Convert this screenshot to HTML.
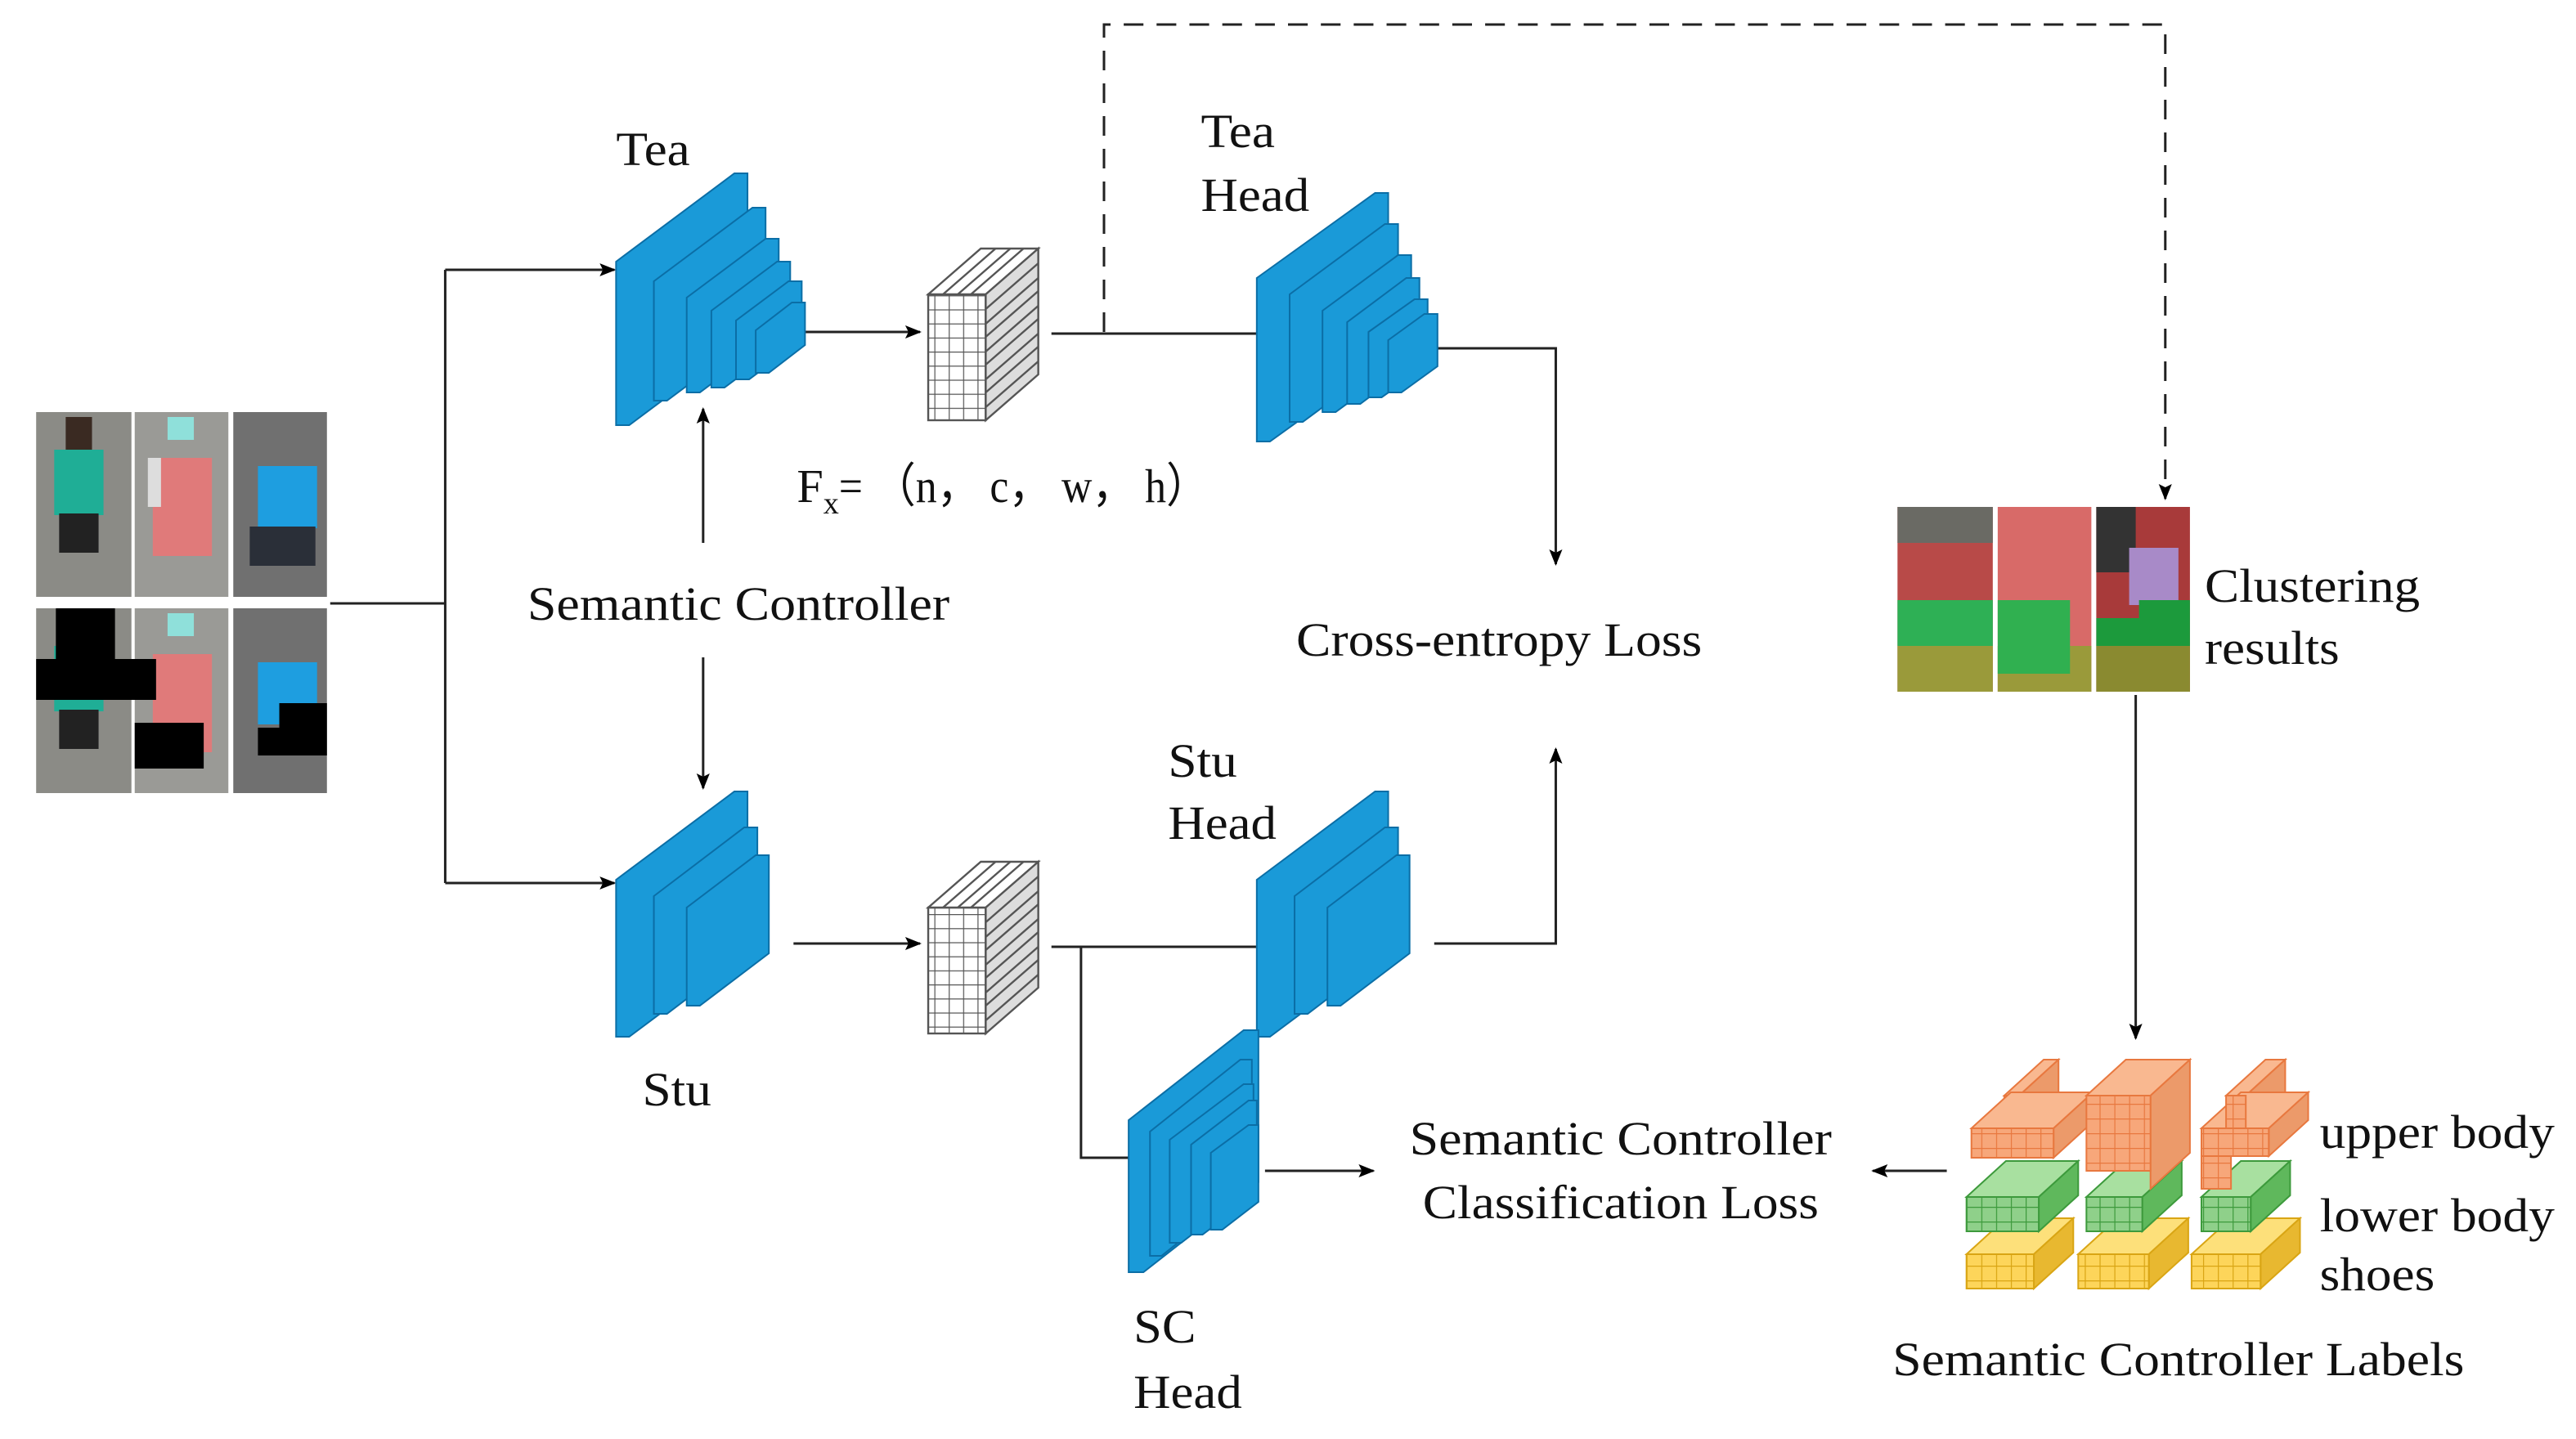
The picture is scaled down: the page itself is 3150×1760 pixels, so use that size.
<!DOCTYPE html>
<html><head><meta charset="utf-8"><style>
html,body{margin:0;padding:0;background:#fff;}
svg{display:block;}
text{font-family:"Liberation Serif",serif;font-size:29px;fill:#111;}
</style></head><body>
<svg width="3150" height="1760" viewBox="0 0 1568 880" preserveAspectRatio="none" xmlns="http://www.w3.org/2000/svg">
<defs>
<marker id="ah" markerWidth="10" markerHeight="10" refX="9" refY="5" orient="auto" markerUnits="userSpaceOnUse"><path d="M0,1 L10,5 L0,9 L2,5z" fill="#000"/></marker>
<pattern id="gridW" width="8.75" height="8.6" patternUnits="userSpaceOnUse"><rect width="8.75" height="8.6" fill="#fff"/><path d="M0,0H8.75M0,0V8.6" stroke="#555" stroke-width="1.2"/></pattern>
<pattern id="gO" width="9" height="9" patternUnits="userSpaceOnUse"><rect width="9" height="9" fill="#f7a77a"/><path d="M0,0H9M0,0V9" stroke="#e8783f" stroke-width="1.2"/></pattern>
<pattern id="gG" width="9" height="9" patternUnits="userSpaceOnUse"><rect width="9" height="9" fill="#8fd08a"/><path d="M0,0H9M0,0V9" stroke="#3d9a3c" stroke-width="1.2"/></pattern>
<pattern id="gY" width="9" height="9" patternUnits="userSpaceOnUse"><rect width="9" height="9" fill="#fdd55a"/><path d="M0,0H9M0,0V9" stroke="#d9a514" stroke-width="1.2"/></pattern>
</defs>

<!-- photos -->
<g>
<rect x="22" y="252" width="58" height="113" fill="#8b8b86"/>
<rect x="82" y="252" width="57" height="113" fill="#9a9a96"/>
<rect x="142" y="252" width="57" height="113" fill="#707070"/>
<rect x="33" y="275" width="30" height="40" fill="#1fae96"/><rect x="36" y="314" width="24" height="24" fill="#222"/><rect x="40" y="255" width="16" height="20" fill="#3a2a22"/>
<rect x="93" y="280" width="36" height="60" fill="#e07a7a"/><rect x="90" y="280" width="8" height="30" fill="#ddd"/><rect x="102" y="255" width="16" height="14" fill="#8fe0da"/>
<rect x="157" y="285" width="36" height="38" fill="#1e9ee0"/><rect x="152" y="322" width="40" height="24" fill="#2a2f38"/>
<rect x="22" y="372" width="58" height="113" fill="#8b8b86"/>
<rect x="82" y="372" width="57" height="113" fill="#9a9a96"/>
<rect x="142" y="372" width="57" height="113" fill="#707070"/>
<rect x="33" y="395" width="30" height="40" fill="#1fae96"/><rect x="36" y="434" width="24" height="24" fill="#222"/>
<rect x="93" y="400" width="36" height="60" fill="#e07a7a"/><rect x="102" y="375" width="16" height="14" fill="#8fe0da"/>
<rect x="157" y="405" width="36" height="38" fill="#1e9ee0"/>
<path d="M34,372H70V403H95V428H22V403H34z" fill="#000"/>
<rect x="82" y="442" width="42" height="28" fill="#000"/>
<path d="M170,430H199V462H157V445H170z" fill="#000"/>
</g>

<!-- connectors -->
<g stroke="#222" stroke-width="1.5" fill="none">
<path d="M201,369H271M271,165V540"/>
<path d="M271,165H374" marker-end="url(#ah)"/>
<path d="M271,540H374" marker-end="url(#ah)"/>
<path d="M489,203H560" marker-end="url(#ah)"/>
<path d="M640,204H765"/>
<path d="M672,203V15H1318V305" stroke-dasharray="12,8" marker-end="url(#ah)"/>
<path d="M875,213H947V345" marker-end="url(#ah)"/>
<path d="M428,332V250" marker-end="url(#ah)"/>
<path d="M428,402V482" marker-end="url(#ah)"/>
<path d="M483,577H560" marker-end="url(#ah)"/>
<path d="M640,579H765"/>
<path d="M658,579V708H702" marker-end="url(#ah)"/>
<path d="M873,577H947V458" marker-end="url(#ah)"/>
<path d="M770,716H836" marker-end="url(#ah)"/>
<path d="M1185,716H1140" marker-end="url(#ah)"/>
<path d="M1300,425V635" marker-end="url(#ah)"/>
</g>

<!-- blue blocks -->
<g fill="#1a9ad8" stroke="#0b6ea6" stroke-width="1">
<path d="M375,160L447,106L455,106L455,206L383,260L375,260z"/>
<path d="M398,172L458,127L466,127L466,200L406,245L398,245z"/>
<path d="M418,182L466,146L474,146L474,204L426,240L418,240z"/>
<path d="M433,190L473,160L481,160L481,207L441,237L433,237z"/>
<path d="M448,196L480,172L488,172L488,208L456,232L448,232z"/>
<path d="M460,202L482,185L490,185L490,211L468,228L460,228z"/>
<path d="M765,170L837,118L845,118L845,218L773,270L765,270z"/>
<path d="M785,180L843,137L851,137L851,215L793,258L785,258z"/>
<path d="M805,190L851,156L859,156L859,218L813,252L805,252z"/>
<path d="M820,197L856,170L864,170L864,220L828,247L820,247z"/>
<path d="M833,203L861,183L869,183L869,223L841,243L833,243z"/>
<path d="M845,208L867,192L875,192L875,224L853,240L845,240z"/>
<path d="M375,538L447,484L455,484L455,580L383,634L375,634z"/>
<path d="M398,548L453,506L461,506L461,578L406,620L398,620z"/>
<path d="M418,555L460,523L468,523L468,583L426,615L418,615z"/>
<path d="M765,538L837,484L845,484L845,580L773,634L765,634z"/>
<path d="M788,548L843,506L851,506L851,578L796,620L788,620z"/>
<path d="M808,555L850,523L858,523L858,583L816,615L808,615z"/>
<path d="M687,685L757,630L766,630L766,723L696,778L687,778z"/>
<path d="M700,692L755,648L762,648L762,724L707,768L700,768z"/>
<path d="M712,697L757,663L763,663L763,726L719,760L712,760z"/>
<path d="M725,700L760,673L765,673L765,730L732,755L725,755z"/>
<path d="M737,705L760,688L766,688L766,735L744,752L737,752z"/>
</g>

<!-- feature cubes -->
<g stroke="#555" stroke-width="1.2">
<rect x="565" y="180" width="35" height="77" fill="url(#gridW)"/>
<path d="M565,180L597,152L632,152L600,180z" fill="#fff"/>
<path d="M600,180L632,152L632,229L600,257z" fill="#ddd"/>
<path d="M574,180L606,152M583,180L615,152M591,180L623,152M600,189L632,161M600,198L632,170M600,206L632,178M600,215L632,187M600,223L632,195M600,232L632,204M600,240L632,212M600,249L632,221" fill="none"/>
<rect x="565" y="555" width="35" height="77" fill="url(#gridW)"/>
<path d="M565,555L597,527L632,527L600,555z" fill="#fff"/>
<path d="M600,555L632,527L632,604L600,632z" fill="#ddd"/>
<path d="M574,555L606,527M583,555L615,527M591,555L623,527M600,564L632,536M600,573L632,545M600,581L632,553M600,590L632,562M600,598L632,570M600,607L632,579M600,615L632,587M600,624L632,596" fill="none"/>
</g>

<!-- clustering results -->
<g>
<rect x="1155" y="310" width="58" height="113" fill="#b84a48"/>
<rect x="1216" y="310" width="57" height="113" fill="#d86a68"/>
<rect x="1276" y="310" width="57" height="113" fill="#a83a3a"/>
<rect x="1155" y="310" width="58" height="22" fill="#6a6a64"/>
<rect x="1155" y="367" width="58" height="28" fill="#2eb055"/>
<rect x="1155" y="395" width="58" height="28" fill="#9a9a3a"/>
<rect x="1216" y="395" width="57" height="28" fill="#9a9a3a"/>
<rect x="1216" y="367" width="44" height="45" fill="#30b050"/>
<rect x="1276" y="310" width="24" height="40" fill="#333"/>
<rect x="1296" y="335" width="30" height="35" fill="#a88ac8"/>
<path d="M1302,367H1333V395H1276V378H1302z" fill="#1c9a3c"/>
<rect x="1276" y="395" width="57" height="28" fill="#8a8a30"/>
</g>

<!-- label blocks -->
<g stroke-width="1">
<g stroke="#d9a514"><path d="M1197,767L1221,745L1262,745L1238,767z" fill="#fde07a"/><path d="M1238,767L1262,745L1262,766L1238,788z" fill="#e8b830"/><rect x="1197" y="767" width="41" height="21" fill="url(#gY)"/></g>
<g stroke="#d9a514"><path d="M1265,767L1289,745L1332,745L1308,767z" fill="#fde07a"/><path d="M1308,767L1332,745L1332,766L1308,788z" fill="#e8b830"/><rect x="1265" y="767" width="43" height="21" fill="url(#gY)"/></g>
<g stroke="#d9a514"><path d="M1334,767L1358,745L1400,745L1376,767z" fill="#fde07a"/><path d="M1376,767L1400,745L1400,766L1376,788z" fill="#e8b830"/><rect x="1334" y="767" width="42" height="21" fill="url(#gY)"/></g>
<g stroke="#3d9a3c"><path d="M1197,732L1221,710L1265,710L1241,732z" fill="#a8e0a0"/><path d="M1241,732L1265,710L1265,731L1241,753z" fill="#5fb85c"/><rect x="1197" y="732" width="44" height="21" fill="url(#gG)"/></g>
<g stroke="#3d9a3c"><path d="M1270,732L1294,710L1328,710L1304,732z" fill="#a8e0a0"/><path d="M1304,732L1328,710L1328,731L1304,753z" fill="#5fb85c"/><rect x="1270" y="732" width="34" height="21" fill="url(#gG)"/></g>
<g stroke="#3d9a3c"><path d="M1340,732L1364,710L1394,710L1370,732z" fill="#a8e0a0"/><path d="M1370,732L1394,710L1394,731L1370,753z" fill="#5fb85c"/><rect x="1340" y="732" width="30" height="21" fill="url(#gG)"/></g>
<g stroke="#e8783f">
<path d="M1220,670L1244,648L1253,648L1229,670z" fill="#f9b890"/><path d="M1229,670L1253,648L1253,680L1229,702z" fill="#ec9a6a"/><rect x="1220" y="670" width="9" height="32" fill="url(#gO)"/>
<path d="M1200,690L1224,668L1274,668L1250,690z" fill="#f9b890"/><path d="M1250,690L1274,668L1274,686L1250,708z" fill="#ec9a6a"/><rect x="1200" y="690" width="50" height="18" fill="url(#gO)"/>
<path d="M1270,670L1294,648L1333,648L1309,670z" fill="#f9b890"/><path d="M1309,670L1333,648L1333,705L1309,727z" fill="#ec9a6a"/><rect x="1270" y="670" width="39" height="46" fill="url(#gO)"/>
<path d="M1355,670L1379,648L1391,648L1367,670z" fill="#f9b890"/><path d="M1367,670L1391,648L1391,676L1367,698z" fill="#ec9a6a"/>
<path d="M1340,690L1364,668L1405,668L1381,690z" fill="#f9b890"/><path d="M1381,690L1405,668L1405,685L1381,707z" fill="#ec9a6a"/><rect x="1340" y="690" width="41" height="17" fill="url(#gO)"/><rect x="1340" y="707" width="18" height="20" fill="url(#gO)"/><rect x="1355" y="670" width="12" height="20" fill="url(#gO)"/>
</g>
</g>

<!-- text -->
<text x="375" y="101" textLength="45" lengthAdjust="spacingAndGlyphs">Tea</text>
<text x="731" y="90" textLength="45" lengthAdjust="spacingAndGlyphs">Tea</text>
<text x="731" y="129" textLength="66" lengthAdjust="spacingAndGlyphs">Head</text>
<text x="485" y="307">F<tspan font-size="19" dy="7">x</tspan><tspan dy="-7" textLength="225" lengthAdjust="spacingAndGlyphs">= （n， c， w， h）</tspan></text>
<text x="321" y="379" textLength="257" lengthAdjust="spacingAndGlyphs">Semantic Controller</text>
<text x="789" y="401" textLength="247" lengthAdjust="spacingAndGlyphs">Cross-entropy Loss</text>
<text x="1342" y="368" textLength="131" lengthAdjust="spacingAndGlyphs">Clustering</text>
<text x="1342" y="406" textLength="82" lengthAdjust="spacingAndGlyphs">results</text>
<text x="711" y="475" textLength="42" lengthAdjust="spacingAndGlyphs">Stu</text>
<text x="711" y="513" textLength="66" lengthAdjust="spacingAndGlyphs">Head</text>
<text x="391" y="676" textLength="42" lengthAdjust="spacingAndGlyphs">Stu</text>
<text x="858" y="706" textLength="257" lengthAdjust="spacingAndGlyphs">Semantic Controller</text>
<text x="866" y="745" textLength="241" lengthAdjust="spacingAndGlyphs">Classification Loss</text>
<text x="1412" y="702" textLength="143" lengthAdjust="spacingAndGlyphs">upper body</text>
<text x="1412" y="753" textLength="143" lengthAdjust="spacingAndGlyphs">lower body</text>
<text x="1412" y="789" textLength="70" lengthAdjust="spacingAndGlyphs">shoes</text>
<text x="690" y="821" textLength="38" lengthAdjust="spacingAndGlyphs">SC</text>
<text x="690" y="861" textLength="66" lengthAdjust="spacingAndGlyphs">Head</text>
<text x="1152" y="841" textLength="348" lengthAdjust="spacingAndGlyphs">Semantic Controller Labels</text>
</svg>
</body></html>
